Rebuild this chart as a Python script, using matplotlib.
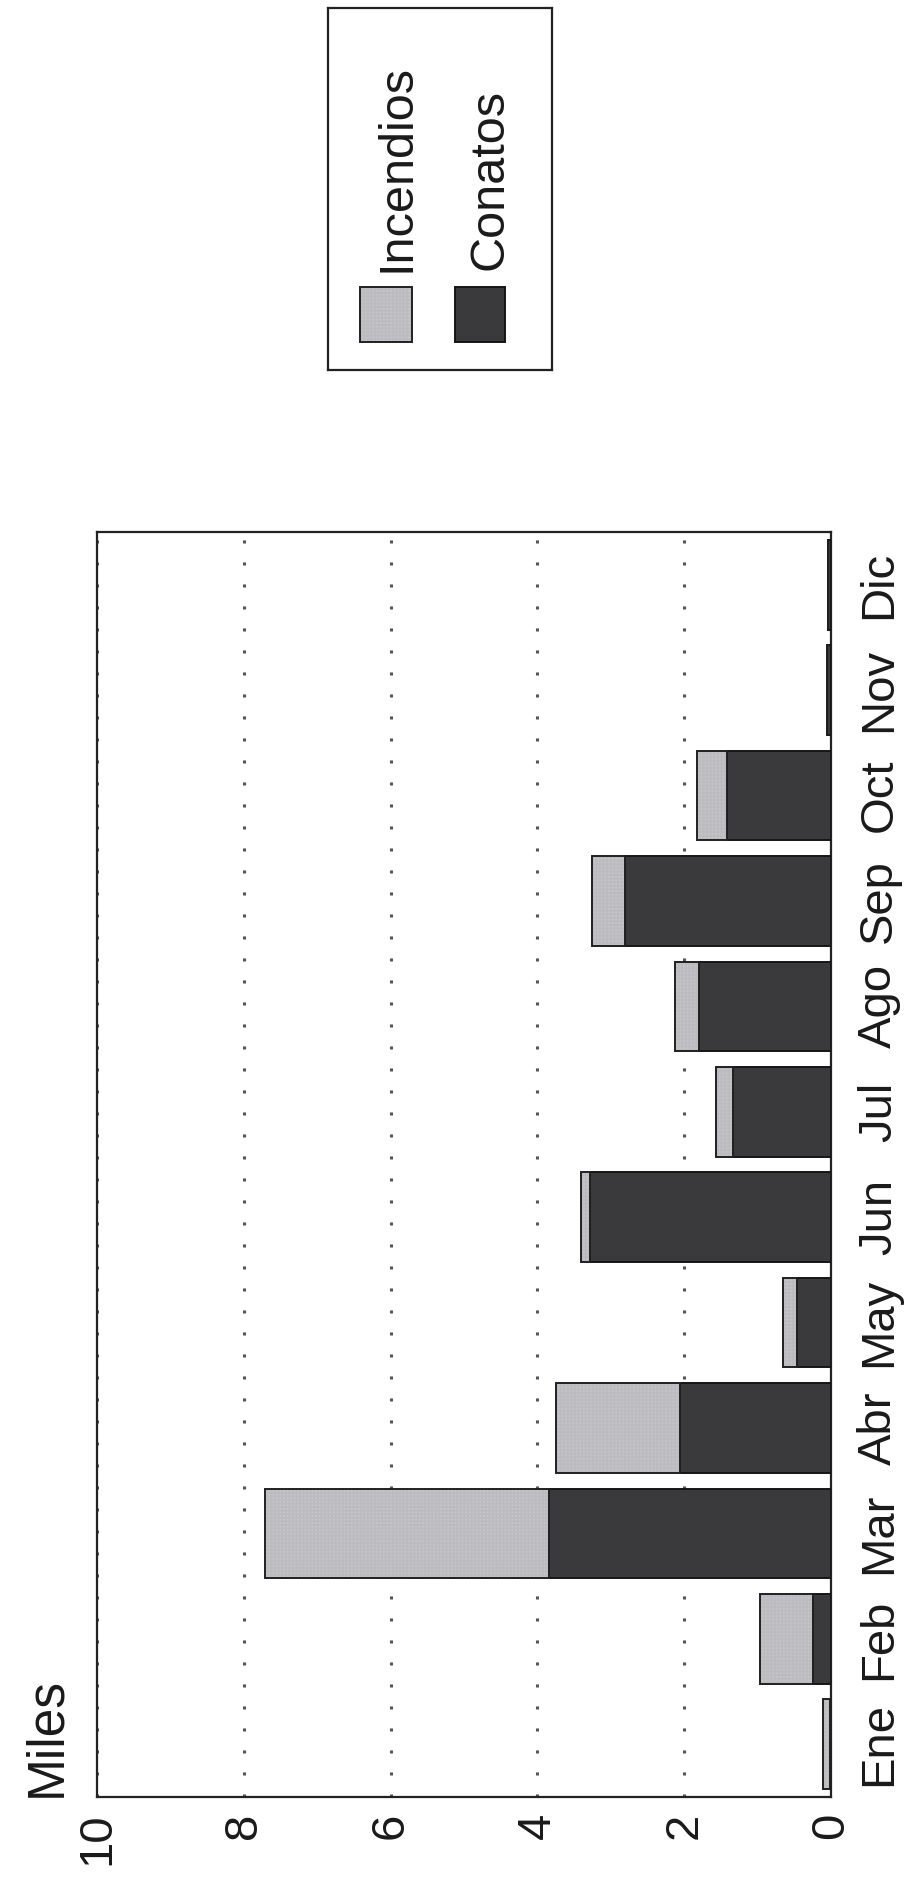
import numpy as np
import matplotlib
matplotlib.use("Agg")
import matplotlib.pyplot as plt
from matplotlib.patches import Rectangle

plt.rcParams['font.family'] = ['Liberation Sans', 'DejaVu Sans']
plt.rcParams['hatch.linewidth'] = 0.5

# ---- data (thousands) ----
months = ['Ene', 'Feb', 'Mar', 'Abr', 'May', 'Jun', 'Jul', 'Ago', 'Sep', 'Oct', 'Nov', 'Dic']
conatos = [0.02, 0.25, 3.84, 2.06, 0.47, 3.28, 1.33, 1.80, 2.80, 1.42, 0.06, 0.04]
incendios = [0.09, 0.72, 3.87, 1.69, 0.18, 0.13, 0.24, 0.32, 0.45, 0.41, 0.0, 0.0]
value_ticks = [0, 2, 4, 6, 8, 10]
series_names = ['Incendios', 'Conatos']
unit_label = 'Miles'

DARK = '#3a3a3c'
LIGHT = '#d8d8dc'
HATCH_C = '#bcbcc0'
HATCH = '+' * 12
W, H = 906, 1877

fig = plt.figure(figsize=(W / 100, H / 100), dpi=100)
fig.patch.set_facecolor('white')

# chart is drawn rotated 90 degrees counter-clockwise
ax = fig.add_axes([97 / W, 80 / H, 734 / W, 1265 / H])
ypos = np.arange(len(months))
bh = 0.85

ax.barh(ypos, conatos, height=bh, color=DARK, edgecolor='#151515', linewidth=1.4, zorder=3)
ax.barh(ypos, incendios, left=conatos, height=bh, color=LIGHT, edgecolor='none', linewidth=0, zorder=3)
ax.barh(ypos, incendios, left=conatos, height=bh, color='none', edgecolor=HATCH_C,
        linewidth=0, hatch=HATCH, zorder=3)
ax.barh(ypos, incendios, left=conatos, height=bh, color='none', edgecolor='#202020',
        linewidth=1.4, zorder=4)

ax.set_xlim(10, 0)
ax.set_ylim(-0.5, len(months) - 0.5)

ax.yaxis.tick_right()
ax.set_yticks(ypos)
ax.set_yticklabels(months, rotation=90, rotation_mode='anchor', ha='center', va='top',
                   fontsize=34, color='#1a1a1a')
ax.tick_params(axis='y', length=0, pad=19)

ax.set_xticks(value_ticks)
ax.set_xticklabels([str(v) for v in value_ticks], rotation=90, rotation_mode='anchor',
                   ha='right', va='center', fontsize=34, color='#1a1a1a')
ax.tick_params(axis='x', length=0, pad=11)

ax.set_axisbelow(True)
ax.xaxis.grid(True, linestyle=(0, (1, 6.2)), color='#555555', linewidth=2.2, zorder=0)
ax.yaxis.grid(False)
for s in ax.spines.values():
    s.set_linewidth(1.6)
    s.set_color('#222222')

fig.text(60 / W, 80 / H, unit_label, rotation=90, rotation_mode='anchor',
         ha='left', va='baseline', fontsize=37, color='#1a1a1a')

# ---- legend (rotated) ----
lax = fig.add_axes([328 / W, (H - 370) / H, 224 / W, 362 / H])
lax.set_xlim(0, 1)
lax.set_ylim(0, 1)
lax.set_xticks([])
lax.set_yticks([])
for s in lax.spines.values():
    s.set_linewidth(1.6)
    s.set_color('#222222')

lax.add_patch(Rectangle((0.143, 0.077), 0.232, 0.152, facecolor=LIGHT, edgecolor='none'))
lax.add_patch(Rectangle((0.143, 0.077), 0.232, 0.152, facecolor='none', edgecolor=HATCH_C,
                        linewidth=0, hatch=HATCH))
lax.add_patch(Rectangle((0.143, 0.077), 0.232, 0.152, facecolor='none', edgecolor='#202020',
                        linewidth=1.4))
lax.add_patch(Rectangle((0.567, 0.077), 0.223, 0.152, facecolor=DARK, edgecolor='#151515',
                        linewidth=1.4))
lax.text(0.366, 0.271, series_names[0], rotation=90, rotation_mode='anchor',
         ha='left', va='baseline', fontsize=35, color='#1a1a1a')
lax.text(0.781, 0.276, series_names[1], rotation=90, rotation_mode='anchor',
         ha='left', va='baseline', fontsize=35, color='#1a1a1a')

fig.savefig('out.png', dpi=100, facecolor='white')
